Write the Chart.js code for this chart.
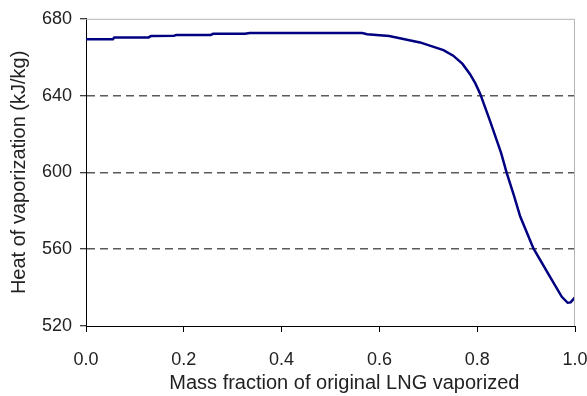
<!DOCTYPE html>
<html>
<head>
<meta charset="utf-8">
<script src="https://cdn.jsdelivr.net/npm/chart.js@4/dist/chart.umd.min.js"></script>
<style>
  html, body { margin: 0; padding: 0; background: #fff; }
  #wrap { width: 587px; height: 396px; }
</style>
</head>
<body>
<div id="wrap"><canvas id="heatChart" width="587" height="396"></canvas></div>
<script>
// mass fraction of original LNG vaporized
const massFraction = [0.000, 0.055, 0.058, 0.128, 0.133, 0.180, 0.185, 0.255, 0.260, 0.325, 0.335,
    0.565, 0.575, 0.620, 0.683, 0.731, 0.751, 0.770, 0.785, 0.796, 0.806, 0.826, 0.849, 0.860,
    0.875, 0.888, 0.915, 0.949, 0.973, 0.985, 0.991, 1.000];
// heat of vaporization (kJ/kg)
const heatVap = [669.4, 669.4, 670.3, 670.3, 671.1, 671.2, 671.6, 671.6, 672.2, 672.2, 672.6,
    672.6, 672.0, 671.0, 667.7, 663.7, 660.8, 656.5, 651.3, 646.5, 641.0, 627.0, 610.0, 600.0,
    588.0, 577.0, 560.4, 545.6, 535.2, 532.1, 532.3, 535.0];

const xTicks = [0, 0.2, 0.4, 0.6, 0.8, 1.0];
const yTicks = [520, 560, 600, 640, 680];

const points = massFraction.map((x, i) => ({ x: x, y: heatVap[i] }));

// light grey frame on top and right of the plot
const frame = {
    id: 'frame',
    afterDraw(chart) {
        const { ctx, chartArea: a } = chart;
        ctx.save();
        ctx.strokeStyle = '#b4b4b4';
        ctx.lineWidth = 1;
        ctx.beginPath();
        ctx.moveTo(a.left, a.top + 0.5);
        ctx.lineTo(a.right - 0.5, a.top + 0.5);
        ctx.lineTo(a.right - 0.5, a.bottom);
        ctx.stroke();
        ctx.restore();
    }
};

const ctx = document.getElementById('heatChart').getContext('2d');

new Chart(ctx, {
    type: 'line',
    data: {
        datasets: [{
            data: points,
            borderColor: '#000080',
            borderWidth: 2.5,
            pointRadius: 0,
            tension: 0,
            fill: false
        }]
    },
    options: {
        responsive: false,
        animation: false,
        layout: { padding: { left: 7, top: 18, right: 2, bottom: 0 } },
        plugins: { legend: { display: false }, tooltip: { enabled: false } },
        scales: {
            x: {
                type: 'linear',
                min: 0,
                max: 1,
                afterBuildTicks: s => { s.ticks = xTicks.map(v => ({ value: v })); },
                afterFit: s => { s.height = 70; s.paddingLeft = 0; s.paddingRight = 12; },
                ticks: {
                    padding: 17,
                    color: '#222',
                    font: { family: 'Liberation Sans', size: 18 },
                    callback: v => v.toFixed(1)
                },
                grid: { drawOnChartArea: false, tickLength: 6, tickColor: '#000', tickWidth: 1 },
                border: { color: '#000', width: 1 },
                title: {
                    display: true,
                    // leading spaces nudge the title right, as in the original
                    text: '     Mass fraction of original LNG vaporized',
                    color: '#222',
                    font: { family: 'Liberation Sans', size: 20 },
                    padding: { top: 0, bottom: 1 }
                }
            },
            y: {
                min: 520,
                max: 680,
                afterBuildTicks: s => { s.ticks = yTicks.map(v => ({ value: v })); },
                afterFit: s => { s.width = 79; },
                ticks: {
                    padding: 8,
                    color: '#222',
                    font: { family: 'Liberation Sans', size: 18 }
                },
                grid: {
                    color: c => (c.tick && (c.tick.value === 520 || c.tick.value === 680)) ? 'rgba(0,0,0,0)' : '#5a5a5a',
                    lineWidth: 1.5,
                    tickLength: 6,
                    tickColor: '#000',
                    tickWidth: 1
                },
                border: { color: '#000', width: 1, dash: [8, 5] },
                title: {
                    display: true,
                    text: 'Heat of vaporization (kJ/kg)',
                    color: '#222',
                    font: { family: 'Liberation Sans', size: 20 },
                    padding: { top: 0, bottom: 4 }
                }
            }
        }
    },
    plugins: [frame]
});
</script>
</body>
</html>
